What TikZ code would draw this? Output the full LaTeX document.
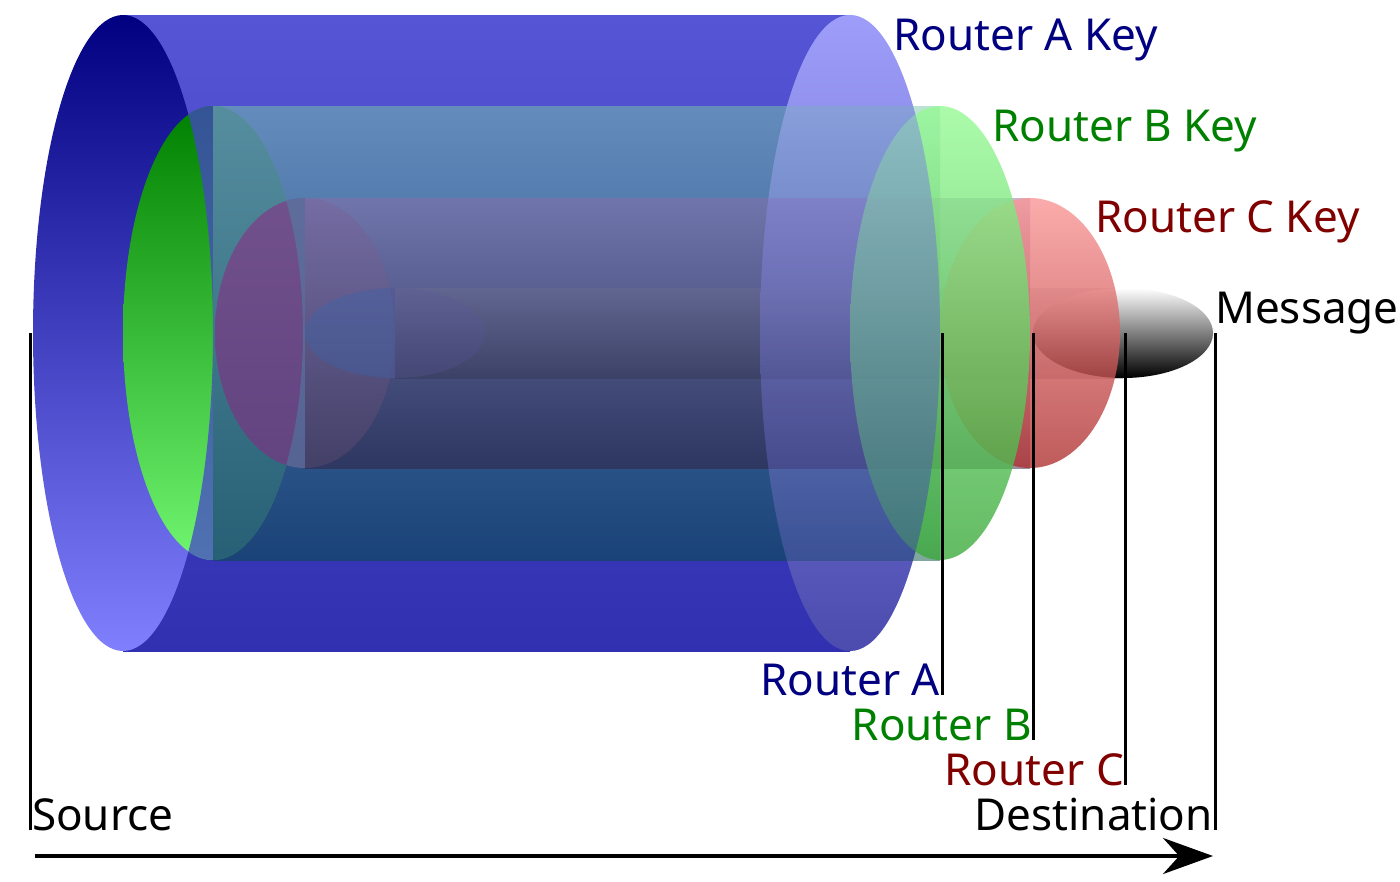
\documentclass[tikz,border=0pt]{standalone}
\usepackage{fontspec}
\setmainfont{Noto Sans}
\usetikzlibrary{arrows.meta}
\definecolor{navy}{RGB}{0,0,128}
\definecolor{dgreen}{RGB}{0,128,0}
\definecolor{dred}{RGB}{128,0,0}
\definecolor{bbody}{RGB}{70,70,200}
\definecolor{gbody}{RGB}{80,130,160}
\definecolor{rbody}{RGB}{100,80,140}
\newcommand\mybody[6]{\shade[top color=#4,bottom color=#5,opacity=#6] (#1,333-#3) rectangle (#2,333+#3);}
\newcommand\mycap[5]{\shade[top color=#3,bottom color=#4,opacity=#5] (#1,333) ellipse [x radius=90,y radius=#2];}
\newcommand\myover[6]{\begin{scope}\clip (#1,333) ellipse [x radius=90,y radius=#2];
 \fill[#5,opacity=#6,even odd rule] (0,0) rectangle (1400,881) (#3,333) ellipse [x radius=90,y radius=#4];\end{scope}}
\tikzset{lbl/.style={font=\fontsize{44}{44}\selectfont,inner sep=0pt},
 tick/.style={line width=3pt,black}}
\begin{document}
\begin{tikzpicture}[x=1pt,y=-1pt]
\useasboundingbox (0,0) rectangle (1400,881);
% blue
\mybody{123}{850}{318}{{rgb,255:red,85;green,85;blue,213}}{{rgb,255:red,48;green,48;blue,176}}{1}
\mycap{123}{318}{navy}{{rgb,255:red,128;green,128;blue,255}}{1}
% blue right cap underlay (opaque) so the seam at x=850 vanishes
\mycap{850}{318}{{rgb,255:red,165;green,165;blue,250}}{{rgb,255:red,90;green,90;blue,180}}{1}
% green
\mycap{213}{227}{dgreen}{{rgb,255:red,112;green,245;blue,112}}{1}
\myover{213}{227}{123}{318}{bbody}{0.75}
\mybody{213}{940}{227}{{rgb,255:red,120;green,200;blue,170}}{{rgb,255:red,0;green,80;blue,60}}{0.5}
% red
\mycap{305}{135}{{rgb,255:red,150;green,30;blue,130}}{{rgb,255:red,150;green,30;blue,130}}{0.5}
\myover{305}{135}{213}{227}{gbody}{0.6}
\mybody{305}{1030}{135}{{rgb,255:red,140;green,110;blue,170}}{{rgb,255:red,50;green,30;blue,60}}{0.5}
% message
\mycap{395}{45}{{rgb,255:red,60;green,100;blue,170}}{{rgb,255:red,60;green,100;blue,170}}{0.4}
\myover{395}{45}{305}{135}{rbody}{0.4}
\mybody{395}{1123}{45}{{rgb,255:red,120;green,120;blue,140}}{{rgb,255:red,40;green,40;blue,50}}{0.25}
% right caps
\mycap{1123}{45}{white}{black}{1}
\mycap{1030}{135}{{rgb,255:red,250;green,150;blue,150}}{{rgb,255:red,175;green,50;blue,50}}{0.8}
\mycap{940}{227}{{rgb,255:red,150;green,250;blue,150}}{{rgb,255:red,60;green,170;blue,60}}{0.8}
\mycap{850}{318}{{rgb,255:red,150;green,150;blue,250}}{{rgb,255:red,60;green,60;blue,170}}{0.45}
\coordinate (s0) at (30,333); \coordinate (s1) at (30,830);
\coordinate (a0) at (942,333); \coordinate (a1) at (942,695);
\coordinate (b0) at (1033,333); \coordinate (b1) at (1033,740);
\coordinate (c0) at (1125,333); \coordinate (c1) at (1125,785);
\coordinate (d0) at (1215,333); \coordinate (d1) at (1215,830);
\draw[tick] (s0)--(s1); \draw[tick] (a0)--(a1); \draw[tick] (b0)--(b1);
\draw[tick] (c0)--(c1); \draw[tick] (d0)--(d1);
\coordinate (ar0) at (35,856); \coordinate (ar1) at (1213,856);
\draw[line width=4pt,-{Stealth[length=50pt,width=36pt]}] (ar0)--(ar1);
\node[lbl,navy,anchor=base west] (ka) at (893,50) {Router A Key};
\node[lbl,dgreen,anchor=base west] (kb) at (992,141) {Router B Key};
\node[lbl,dred,anchor=base west] (kc) at (1095,232) {Router C Key};
\node[lbl,black,anchor=base west] (msg) at (1215,323) {Message};
\node[lbl,navy,anchor=base east] (ra) at (940,695) {Router A};
\node[lbl,dgreen,anchor=base east] (rb) at (1032,740) {Router B};
\node[lbl,dred,anchor=base east] (rc) at (1124,785) {Router C};
\node[lbl,black,anchor=base west] (src) at (32,830) {Source};
\node[lbl,black,anchor=base east] (dst) at (1213,830) {Destination};
\end{tikzpicture}
\end{document}
